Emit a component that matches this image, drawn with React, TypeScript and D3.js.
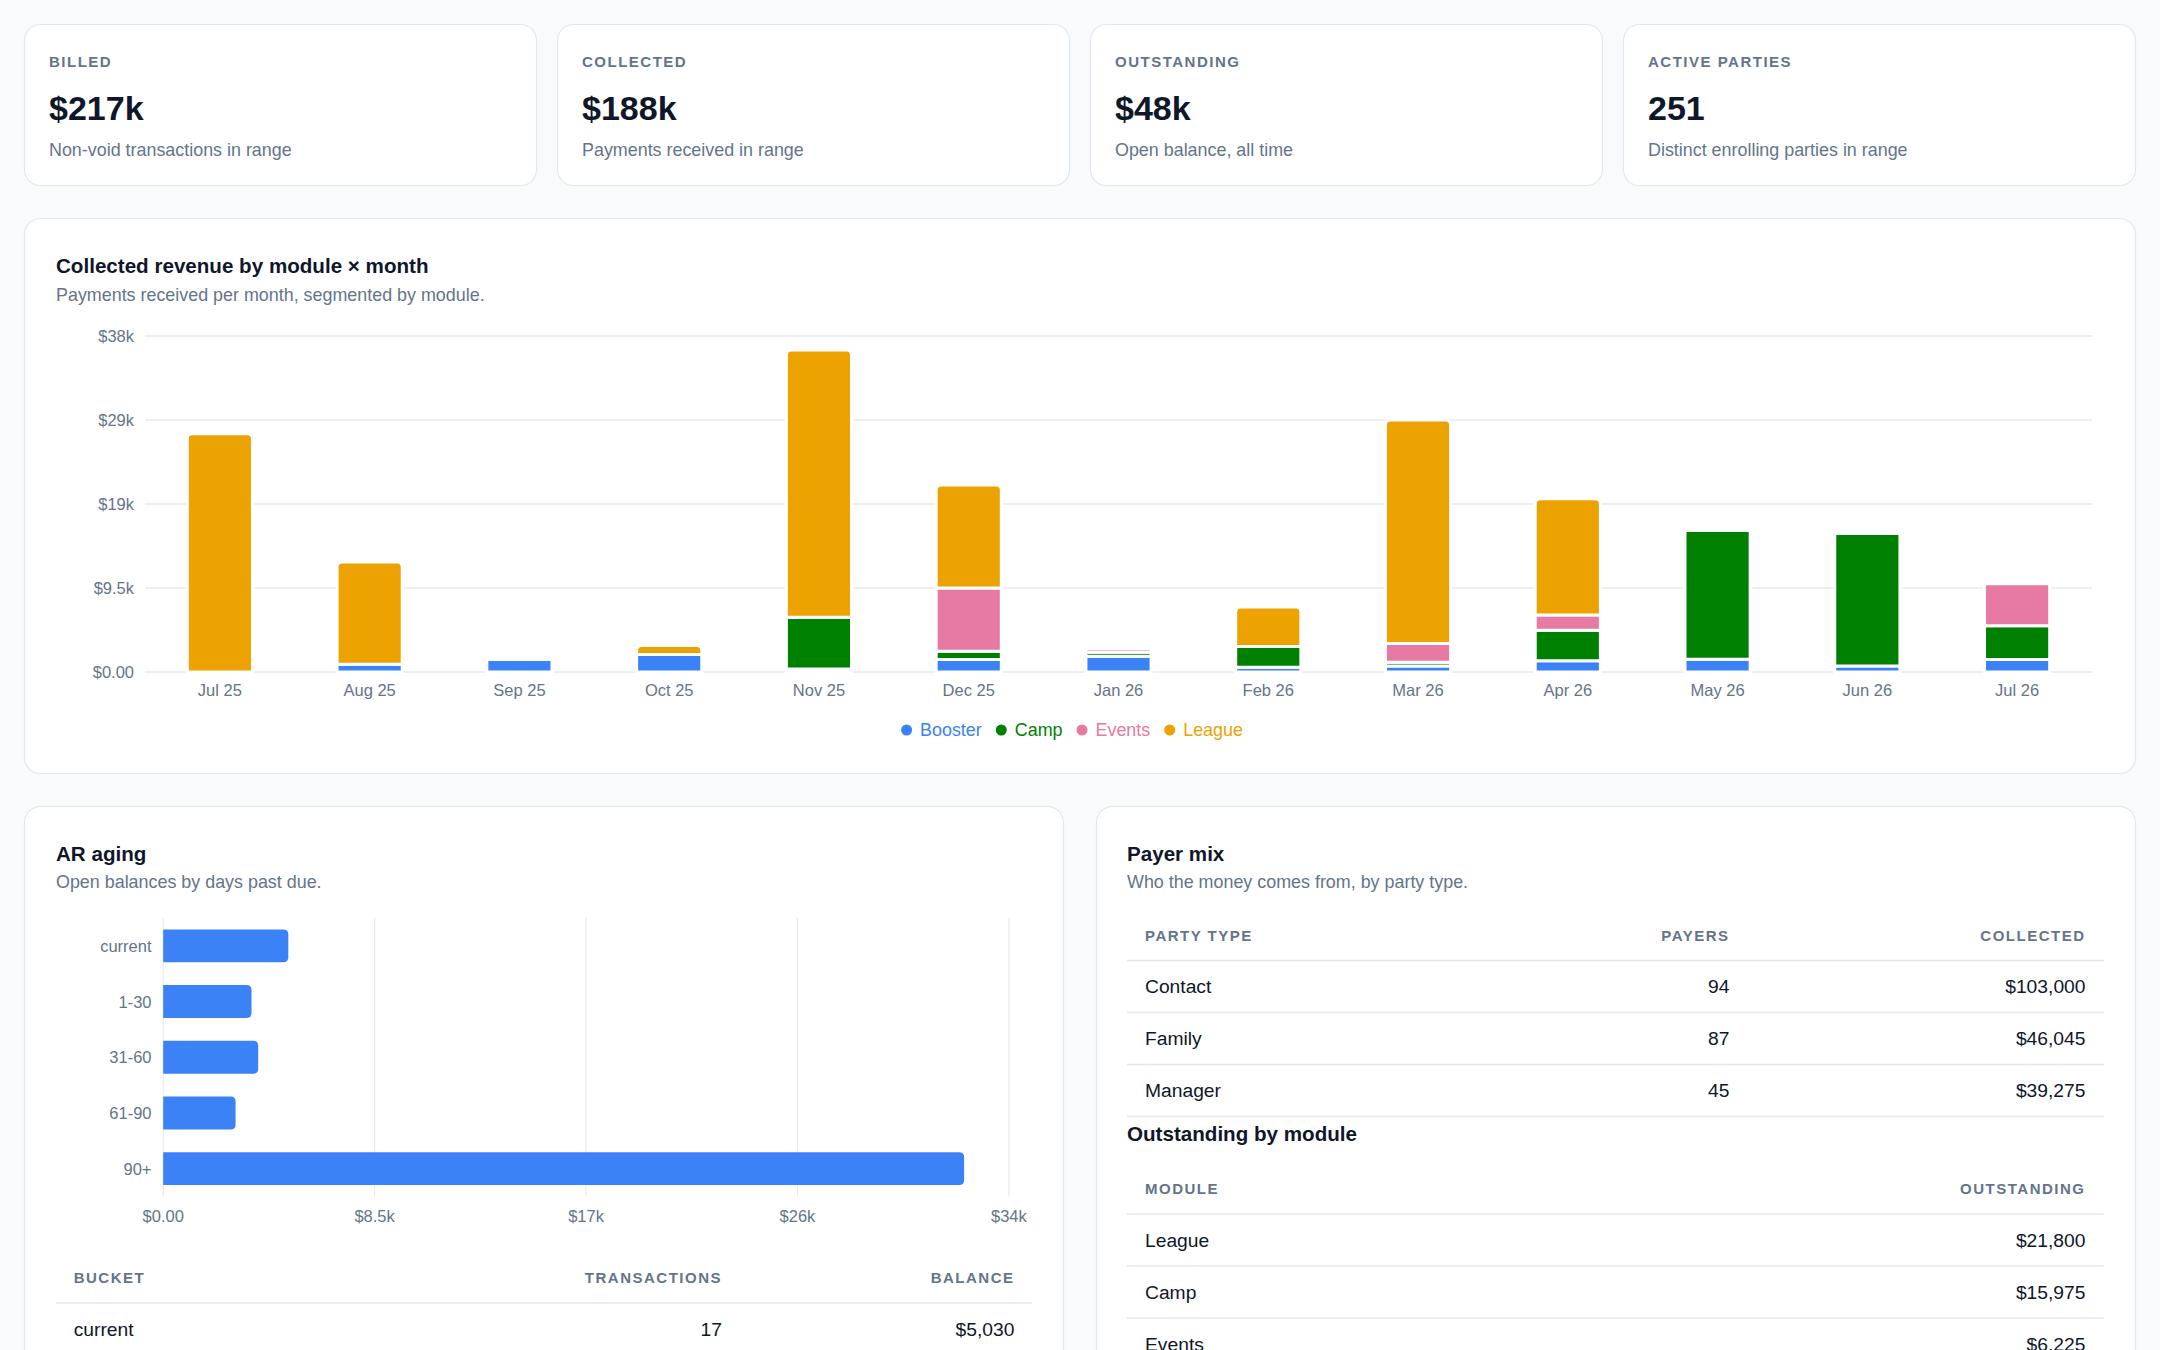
import React, { useEffect, useRef } from 'react';
import * as d3 from 'd3';

const W = 2160;
const H = 1350;
const FONT = '"Liberation Sans", Arial, Helvetica, sans-serif';

const INK = '#0f172a';
const MUTED = '#64748b';
const LINE = '#e2e8f0';

// KPI strip
const kpiLabels = ['BILLED', 'COLLECTED', 'OUTSTANDING', 'ACTIVE PARTIES'];
const kpiValues = ['$217k', '$188k', '$48k', '251'];
const kpiNotes = [
  'Non-void transactions in range',
  'Payments received in range',
  'Open balance, all time',
  'Distinct enrolling parties in range',
];

// Collected revenue, stacked by module
const months = ['Jul 25', 'Aug 25', 'Sep 25', 'Oct 25', 'Nov 25', 'Dec 25', 'Jan 26', 'Feb 26', 'Mar 26', 'Apr 26', 'May 26', 'Jun 26', 'Jul 26'];
const moduleNames = ['Booster', 'Camp', 'Events', 'League'];
const moduleColors = ['#3b82f6', '#008000', '#e77aa2', '#eca200'];
const boosterByMonth = [0, 870, 1400, 1980, 340, 1410, 1770, 530, 680, 1280, 1450, 680, 1410];
const campByMonth = [0, 0, 0, 0, 5840, 940, 450, 2340, 420, 3430, 14550, 14970, 3810];
const eventsByMonth = [0, 0, 0, 0, 0, 7160, 410, 0, 2110, 1730, 0, 0, 4750];
const leagueByMonth = [26950, 11570, 0, 1020, 30240, 11650, 0, 4490, 25300, 13160, 0, 0, 0];
const revenueTicks = [0, 9500, 19000, 28500, 38000];
const revenueTickLabels = ['$0.00', '$9.5k', '$19k', '$29k', '$38k'];

// AR aging
const agingBuckets = ['current', '1-30', '31-60', '61-90', '90+'];
const agingBalances = [5030, 3550, 3820, 2910, 32200];
const agingTicks = [0, 8500, 17000, 25500, 34000];
const agingTickLabels = ['$0.00', '$8.5k', '$17k', '$26k', '$34k'];
const agingTableBuckets = ['current'];
const agingTableTxns = [17];

// Payer mix
const partyTypes = ['Contact', 'Family', 'Manager'];
const partyPayers = [94, 87, 45];
const partyCollected = [103000, 46045, 39275];

// Outstanding by module
const outstandingModules = ['League', 'Camp', 'Events'];
const outstandingAmounts = [21800, 15975, 6225];

const money = d3.format('$,');

function topRounded(x: number, y: number, w: number, h: number, r: number) {
  const rr = Math.min(r, h, w / 2);
  return `M${x},${y + h}V${y + rr}Q${x},${y} ${x + rr},${y}H${x + w - rr}Q${x + w},${y} ${x + w},${y + rr}V${y + h}Z`;
}

function rightRounded(x: number, y: number, w: number, h: number, r: number) {
  const rr = Math.min(r, w, h / 2);
  return `M${x},${y}H${x + w - rr}Q${x + w},${y} ${x + w},${y + rr}V${y + h - rr}Q${x + w},${y + h} ${x + w - rr},${y + h}H${x}Z`;
}

const App: React.FC = () => {
  const svgRef = useRef<SVGSVGElement | null>(null);

  useEffect(() => {
    if (!svgRef.current) return;
    const svg = d3.select(svgRef.current);
    svg.selectAll('*').remove();
    svg.style('font-family', FONT);

    svg.append('rect').attr('width', W).attr('height', H).attr('fill', '#f8fafc');

    const card = (x: number, y: number, w: number, h: number) =>
      svg
        .append('rect')
        .attr('x', x + 0.5)
        .attr('y', y + 0.5)
        .attr('width', w - 1)
        .attr('height', h - 1)
        .attr('rx', 16)
        .attr('fill', '#fff')
        .attr('stroke', LINE)
        .attr('stroke-width', 1.2);

    const label = (
      x: number,
      y: number,
      str: string,
      size: number,
      fill: string,
      opts: { weight?: number; anchor?: string; spacing?: number } = {}
    ) =>
      svg
        .append('text')
        .attr('x', x)
        .attr('y', y)
        .attr('dominant-baseline', 'central')
        .attr('text-anchor', opts.anchor || 'start')
        .attr('font-size', size)
        .attr('font-weight', opts.weight || 400)
        .attr('letter-spacing', opts.spacing || 0)
        .attr('fill', fill)
        .text(str);

    // KPI cards
    const kpiW = (W - 48 - 60) / 4;
    kpiLabels.forEach((k, i) => {
      const x = 24 + i * (kpiW + 20);
      card(x, 24, kpiW, 162);
      label(x + 25, 61, k, 15, MUTED, { weight: 700, spacing: 1.5 });
      label(x + 25, 108, kpiValues[i], 34, INK, { weight: 700 });
      label(x + 25, 150, kpiNotes[i], 17.9, MUTED);
    });

    // Revenue chart card
    card(24, 218, 2112, 556);
    label(56, 265.5, 'Collected revenue by module × month', 20.6, INK, { weight: 700 });
    label(56, 294.5, 'Payments received per month, segmented by module.', 17.9, MUTED);

    const x = d3.scaleBand<string>().domain(months).range([145, 2092]).paddingInner(0.565).paddingOuter(0.2825);
    const y = d3.scaleLinear().domain([0, 38000]).range([672, 336]);

    const grid = svg.append('g');
    revenueTicks.forEach((t, i) => {
      grid
        .append('line')
        .attr('x1', 145)
        .attr('x2', 2092)
        .attr('y1', y(t))
        .attr('y2', y(t))
        .attr('stroke', '#e6ebf2')
        .attr('stroke-width', 1.5);
      label(134, y(t), revenueTickLabels[i], 16.5, MUTED, { anchor: 'end' });
    });
    months.forEach((m) => label(x(m)! + x.bandwidth() / 2, 690, m, 16.5, MUTED, { anchor: 'middle' }));

    const rows = months.map((m, i) => ({
      month: m,
      Booster: boosterByMonth[i],
      Camp: campByMonth[i],
      Events: eventsByMonth[i],
      League: leagueByMonth[i],
    }));
    const series = d3.stack<any>().keys(moduleNames)(rows);

    series.forEach((s, si) => {
      const g = svg.append('g');
      s.forEach((d) => {
        if (d[1] - d[0] <= 0) return;
        const bx = x(d.data.month)!;
        const top = y(d[1]);
        const h = y(d[0]) - top;
        const isTop = moduleNames[si] === 'League';
        g.append('path')
          .attr('d', isTop ? topRounded(bx, top, x.bandwidth(), h, 5) : `M${bx},${top}h${x.bandwidth()}v${h}h${-x.bandwidth()}Z`)
          .attr('fill', moduleColors[si])
          .attr('stroke', '#fff')
          .attr('stroke-width', 3);
      });
    });

    // Legend, laid out from measured text widths
    const legend = svg.append('g');
    let cursor = 0;
    moduleNames.forEach((name, i) => {
      legend
        .append('circle')
        .attr('cx', cursor + 5.5)
        .attr('cy', 730)
        .attr('r', 5.5)
        .attr('fill', moduleColors[i]);
      const t = legend
        .append('text')
        .attr('x', cursor + 19)
        .attr('y', 730)
        .attr('dominant-baseline', 'central')
        .attr('font-size', 17.9)
        .attr('fill', moduleColors[i])
        .text(name);
      cursor += 19 + (t.node() as SVGTextElement).getComputedTextLength() + 14;
    });
    const legendW = cursor - 14;
    legend.attr('transform', `translate(${1072 - legendW / 2},0)`);

    // AR aging card
    card(24, 806, 1040, 640);
    label(56, 853, 'AR aging', 20.6, INK, { weight: 700 });
    label(56, 882.4, 'Open balances by days past due.', 17.9, MUTED);

    const ax = d3.scaleLinear().domain([0, 34000]).range([163.2, 1008.9]);
    const ay = d3.scaleBand<string>().domain(agingBuckets).range([918, 1196.5]).paddingInner(0.41).paddingOuter(0.205);
    agingTicks.forEach((t, i) => {
      svg
        .append('line')
        .attr('x1', ax(t))
        .attr('x2', ax(t))
        .attr('y1', 918)
        .attr('y2', 1196.5)
        .attr('stroke', '#e6ebf2')
        .attr('stroke-width', 1.2);
      label(ax(t), 1216, agingTickLabels[i], 16.5, MUTED, { anchor: 'middle' });
    });
    agingBuckets.forEach((b, i) => {
      svg
        .append('path')
        .attr('d', rightRounded(ax(0), ay(b)!, ax(agingBalances[i]) - ax(0), ay.bandwidth(), 5))
        .attr('fill', '#3b82f6');
      label(151.5, ay(b)! + ay.bandwidth() / 2, b, 16.5, MUTED, { anchor: 'end' });
    });

    const hline = (x1: number, x2: number, yy: number) =>
      svg.append('line').attr('x1', x1).attr('x2', x2).attr('y1', yy).attr('y2', yy).attr('stroke', LINE).attr('stroke-width', 1.5);
    const head = (xx: number, yy: number, str: string, anchor = 'start') =>
      label(xx, yy, str, 15, MUTED, { weight: 700, spacing: 1.5, anchor });
    const cell = (xx: number, yy: number, str: string, anchor = 'start') => label(xx, yy, str, 19.25, INK, { anchor });

    head(73.7, 1277.5, 'BUCKET');
    head(722, 1277.5, 'TRANSACTIONS', 'end');
    head(1014.5, 1277.5, 'BALANCE', 'end');
    hline(56, 1032, 1303);
    agingTableBuckets.forEach((b, i) => {
      const cy = 1303 + 26.3 + i * 52;
      cell(73.7, cy, b);
      cell(722, cy, String(agingTableTxns[i]), 'end');
      cell(1014.5, cy, money(agingBalances[agingBuckets.indexOf(b)]), 'end');
      hline(56, 1032, 1303 + (i + 1) * 52);
    });

    // Payer mix card
    card(1096, 806, 1040, 640);
    label(1127, 853, 'Payer mix', 20.6, INK, { weight: 700 });
    label(1127, 882.4, 'Who the money comes from, by party type.', 17.9, MUTED);

    head(1145, 935.5, 'PARTY TYPE');
    head(1729.5, 935.5, 'PAYERS', 'end');
    head(2085.5, 935.5, 'COLLECTED', 'end');
    hline(1127, 2104, 960.4);
    partyTypes.forEach((p, i) => {
      const cy = 960.4 + 26.3 + i * 52;
      cell(1145, cy, p);
      cell(1729.5, cy, String(partyPayers[i]), 'end');
      cell(2085.5, cy, money(partyCollected[i]), 'end');
      hline(1127, 2104, 960.4 + (i + 1) * 52);
    });

    label(1127, 1133, 'Outstanding by module', 20.6, INK, { weight: 700 });
    head(1145, 1188.5, 'MODULE');
    head(2085.5, 1188.5, 'OUTSTANDING', 'end');
    hline(1127, 2104, 1214);
    outstandingModules.forEach((m, i) => {
      const cy = 1214 + 26.3 + i * 52;
      cell(1145, cy, m);
      cell(2085.5, cy, money(outstandingAmounts[i]), 'end');
      hline(1127, 2104, 1214 + (i + 1) * 52);
    });
  }, []);

  return (
    <svg
      ref={svgRef}
      width={W}
      height={H}
      style={{ position: 'absolute', left: 0, top: 0, display: 'block' }}
    />
  );
};

export default App;
